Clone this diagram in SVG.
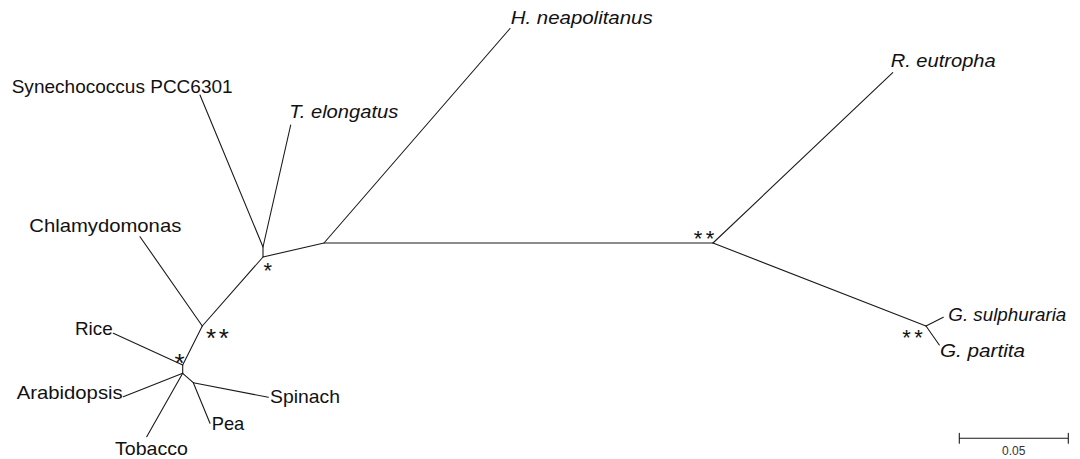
<svg xmlns="http://www.w3.org/2000/svg" width="1080" height="459" viewBox="0 0 1080 459">
<style>
.lbl{font-family:"Liberation Sans",Arial,sans-serif;font-size:19px;fill:#111}
.it{font-style:italic}
.star{font-family:"Liberation Sans",Arial,sans-serif;fill:#111;text-anchor:middle}
.s1{font-size:26px;letter-spacing:2.6px}
.s2{font-size:22px;letter-spacing:3.4px}
.br{stroke:#1a1a1a;stroke-width:1.1;fill:none;stroke-linecap:round;stroke-linejoin:round}
.scale{font-family:"Liberation Sans",Arial,sans-serif;font-size:12px;fill:#333;text-anchor:middle}
</style>
<rect width="1080" height="459" fill="#fff"/>
<g id="connectors">
<polyline class="br" points="200,95 263,247 263,257 324,243 713,243"/>
<line class="br" x1="263" y1="247" x2="290.7" y2="125"/>
<line class="br" x1="324" y1="243" x2="510" y2="28.5"/>
<line class="br" x1="263" y1="257" x2="202.3" y2="326"/>
<line class="br" x1="140" y1="236.7" x2="202.3" y2="326"/>
<line class="br" x1="202.3" y1="326" x2="182.7" y2="365"/>
<polyline class="br" points="113.3,333.3 182.7,365 182.7,373.3"/>
<line class="br" x1="182.7" y1="373.3" x2="123.3" y2="396.7"/>
<line class="br" x1="182.7" y1="373.3" x2="146.7" y2="436.7"/>
<line class="br" x1="182.7" y1="373.3" x2="193.3" y2="382.7"/>
<line class="br" x1="193.3" y1="382.7" x2="210" y2="423.3"/>
<line class="br" x1="193.3" y1="382.7" x2="268.3" y2="397.3"/>
<line class="br" x1="713" y1="243" x2="892.7" y2="72.7"/>
<line class="br" x1="713" y1="243" x2="926" y2="326"/>
<line class="br" x1="926" y1="326" x2="943.3" y2="317.3"/>
<line class="br" x1="926" y1="326" x2="939.3" y2="345"/>
</g>
<g id="synechococcus"><text class="lbl" x="11.7" y="93.3" textLength="221" lengthAdjust="spacingAndGlyphs">Synechococcus PCC6301</text></g>
<g id="telongatus"><text class="lbl it" x="289.3" y="118.3" textLength="109" lengthAdjust="spacingAndGlyphs">T. elongatus</text></g>
<g id="hneapolitanus"><text class="lbl it" x="510.7" y="24" textLength="142" lengthAdjust="spacingAndGlyphs">H. neapolitanus</text></g>
<g id="reutropha"><text class="lbl it" x="890.7" y="67.3" textLength="105" lengthAdjust="spacingAndGlyphs">R. eutropha</text></g>
<g id="chlamydomonas"><text class="lbl" x="29.3" y="231.7" textLength="152" lengthAdjust="spacingAndGlyphs">Chlamydomonas</text></g>
<g id="rice"><text class="lbl" x="75" y="335" textLength="37.7" lengthAdjust="spacingAndGlyphs">Rice</text></g>
<g id="arabidopsis"><text class="lbl" x="16.7" y="399.3" textLength="106" lengthAdjust="spacingAndGlyphs">Arabidopsis</text></g>
<g id="spinach"><text class="lbl" x="270" y="403.3" textLength="70" lengthAdjust="spacingAndGlyphs">Spinach</text></g>
<g id="pea"><text class="lbl" x="211.7" y="430" textLength="32.6" lengthAdjust="spacingAndGlyphs">Pea</text></g>
<g id="tobacco"><text class="lbl" x="115" y="455" textLength="73" lengthAdjust="spacingAndGlyphs">Tobacco</text></g>
<g id="gsulphuraria"><text class="lbl it" x="948.3" y="320.7" textLength="118" lengthAdjust="spacingAndGlyphs">G. sulphuraria</text></g>
<g id="gpartita"><text class="lbl it" x="940" y="356.7" textLength="85" lengthAdjust="spacingAndGlyphs">G. partita</text></g>
<g id="support">
<text class="star s2" x="269.4" y="278.1">*</text>
<text class="star s1" x="218.8" y="347.1">**</text>
<text class="star s1" x="180.8" y="371.8">*</text>
<text class="star s2" x="705.7" y="245.8">**</text>
<text class="star s2" x="914.2" y="344.5">**</text>
</g>
<g id="scalebar">
<path class="br" d="M959.3,438.3H1068.3M959.3,433.3V443.3M1068.3,433.3V443.3" stroke="#333"/>
<text class="scale" x="1013.8" y="455">0.05</text>
</g>
</svg>
